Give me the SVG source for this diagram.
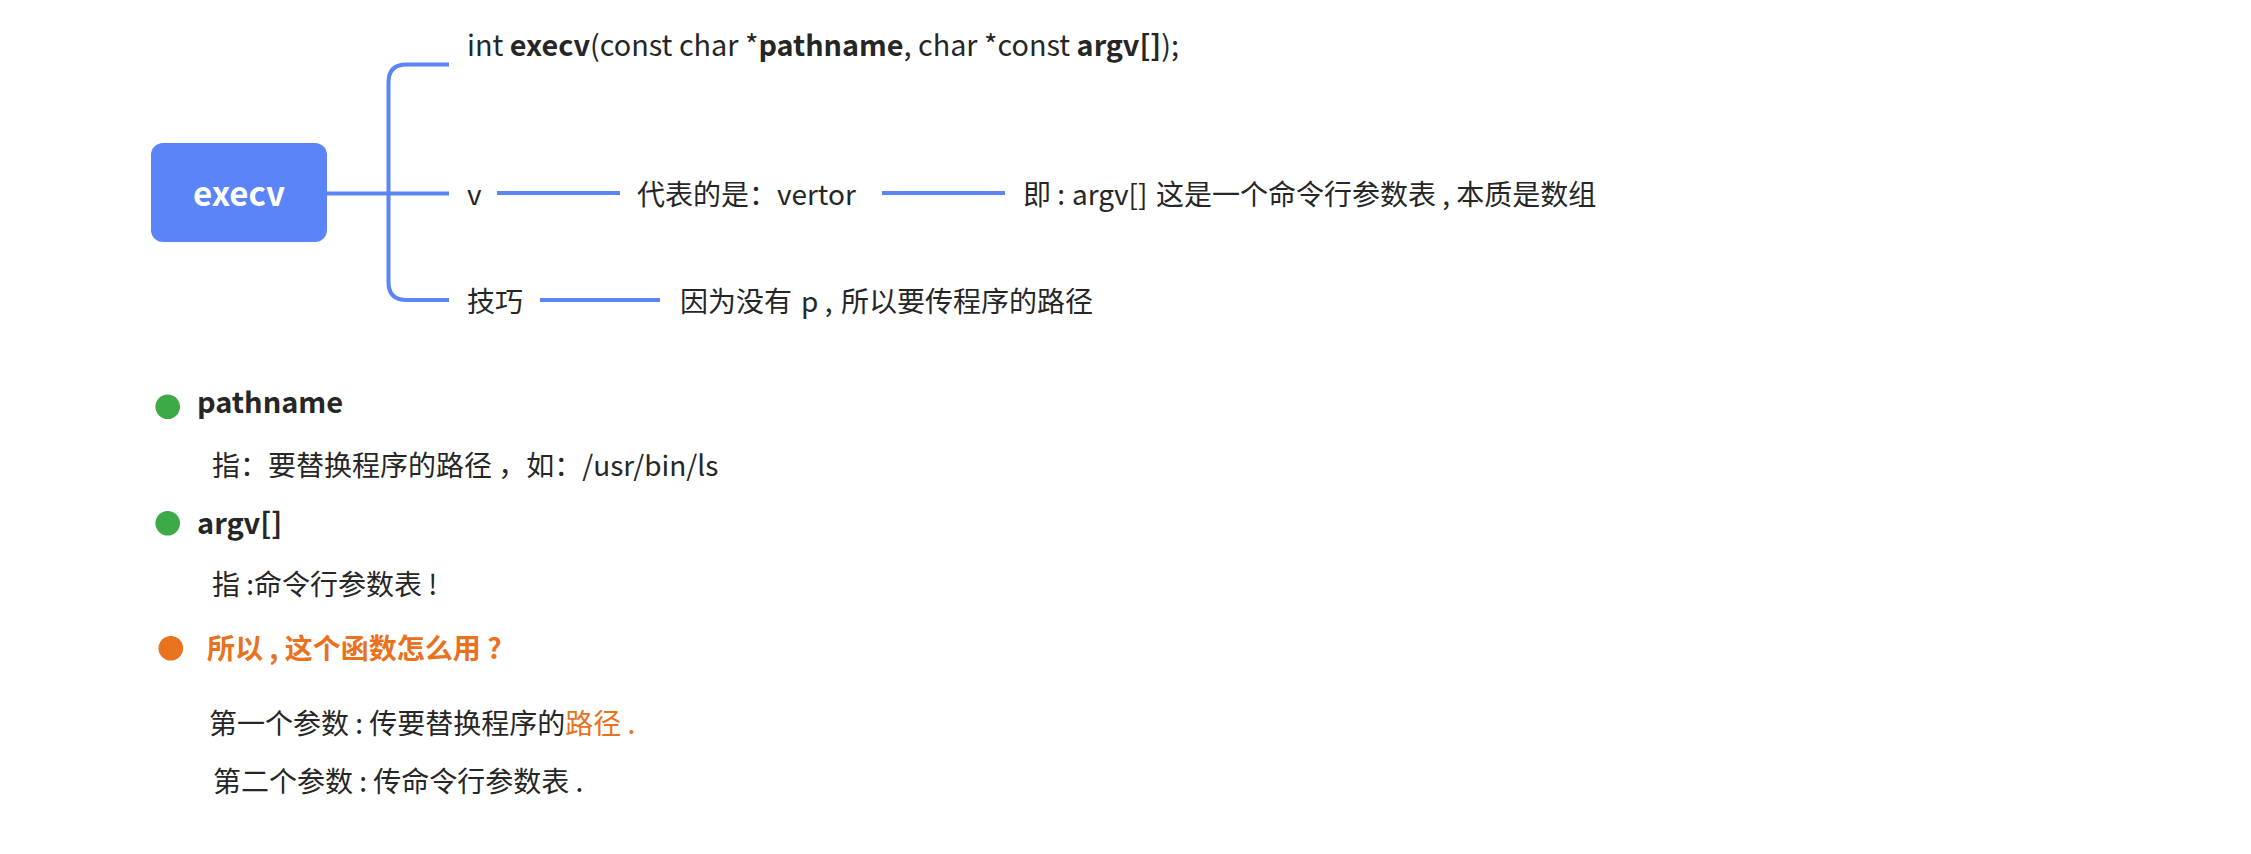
<svg xmlns="http://www.w3.org/2000/svg" width="2251" height="854" viewBox="0 0 2251 854">
<style>
text{font-family:"Noto Sans CJK SC","Noto Sans",sans-serif;font-size:28px;fill:#262626}
.b{font-weight:bold}
.title{font-size:33px;font-weight:bold;fill:#fff}
.head{font-size:29px;font-weight:bold}
.sig{font-size:28.8px}
.or{fill:#e8721e}
.ln{fill:none;stroke:#5b84f8;stroke-width:4;stroke-linecap:butt}
</style>
<rect width="2251" height="854" fill="#fff"/>
<g id="connectors">
<path class="ln" d="M327 193.5H449"/>
<path class="ln" d="M449 64.5H406.5Q388.5 64.5 388.5 82.5V282Q388.5 300 406.5 300H449"/>
<path class="ln" d="M497 193H620"/>
<path class="ln" d="M882 193H1005"/>
<path class="ln" d="M540 300H660"/>
</g>
<g id="node-execv">
<rect x="151" y="143" width="176" height="99" rx="12" fill="#5b84f8"/>
<text class="title" x="239" y="206" text-anchor="middle">execv</text>
</g>
<g id="node-signature">
<text class="sig" x="467" y="56">int <tspan class="b">execv</tspan>(const char *<tspan class="b">pathname</tspan>, char *const <tspan class="b">argv[]</tspan>);</text>
</g>
<g id="node-v"><text x="467" y="205">v</text></g>
<g id="node-vertor"><text x="637" y="205">代表的是：vertor</text></g>
<g id="node-argv"><text x="1023" y="205">即 : <tspan x="1072">argv[]</tspan> <tspan x="1156">这是一个命令行参数表 , 本质是数组</tspan></text></g>
<g id="node-tip"><text x="467" y="312">技巧</text></g>
<g id="node-tip-detail"><text x="680" y="312">因为没有 <tspan x="801">p</tspan> , <tspan x="841">所以要传程序的路径</tspan></text></g>
<g id="note-pathname">
<circle cx="167.7" cy="406.7" r="12.3" fill="#3daa48"/>
<text class="head" x="197" y="413">pathname</text>
<text x="212" y="476">指：要替换程序的路径 ，如：/usr/bin/ls</text>
</g>
<g id="note-argv">
<circle cx="167.7" cy="523.3" r="12.3" fill="#3daa48"/>
<text class="head" x="197" y="534">argv[]</text>
<text x="212" y="595">指 :命令行参数表 !</text>
</g>
<g id="note-usage">
<circle cx="170.8" cy="648.3" r="12.3" fill="#e8721e"/>
<text class="b or" x="207" y="659">所以 , 这个函数怎么用 ?</text>
<text x="209" y="734">第一个参数 : 传要替换程序的<tspan class="or">路径 .</tspan></text>
<text x="213" y="792">第二个参数 : 传命令行参数表 .</text>
</g>
</svg>
